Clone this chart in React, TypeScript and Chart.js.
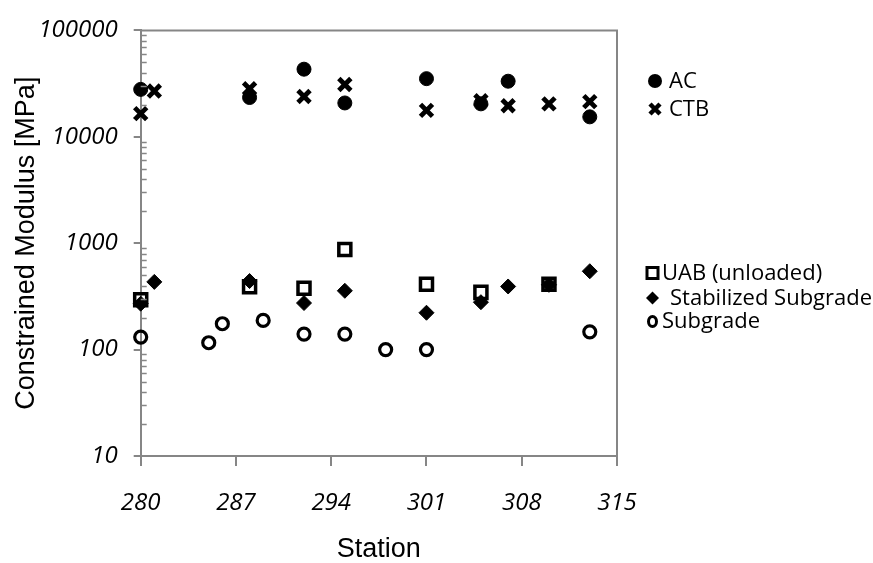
import React, { useEffect, useRef } from 'react';
import { Chart, registerables } from 'chart.js';

Chart.register(...registerables);

// ---- data ----
const acStations = [280, 288, 292, 295, 301, 305, 307, 313];
const acValues = [27900, 23400, 43200, 20800, 35200, 20400, 33300, 15400];

const ctbStations = [280, 281, 288, 292, 295, 301, 305, 307, 310, 313];
const ctbValues = [16500, 26900, 28300, 23900, 31000, 17700, 21800, 19600, 20400, 21400];

const uabStations = [280, 288, 292, 295, 301, 305, 310];
const uabValues = [294, 389, 378, 874, 411, 345, 411];

const stabStations = [280, 281, 288, 292, 295, 301, 305, 307, 310, 313];
const stabValues = [270, 433, 441, 274, 357, 222, 279, 392, 406, 545];

const subStations = [280, 285, 286, 289, 292, 295, 298, 301, 313];
const subValues = [131, 116, 175, 188, 140, 140, 100, 100, 147];

const yTickValues = [10, 100, 1000, 10000, 100000];
const xTickStep = 7;
const xMin = 280;
const xMax = 315;

const seriesNames = ['AC', 'CTB', 'UAB (unloaded)', 'Stabilized Subgrade', 'Subgrade'];
const xTitle = 'Station';
const yTitle = 'Constrained Modulus [MPa]';

const AXIS = '#868686';
const TICK_FONT = "'Open Sans', 'Noto Sans', sans-serif";
const TITLE_FONT = "'Liberation Sans', Arial, sans-serif";

const pts = (xs: number[], ys: number[]) => xs.map((x, i) => ({ x, y: ys[i] }));

export default function App() {
  const ref = useRef<HTMLCanvasElement | null>(null);

  useEffect(() => {
    const canvas = ref.current;
    if (!canvas) return;

    const framePlugin = {
      id: 'frameAndLegend',
      afterDraw(chart: any) {
        const { ctx, chartArea } = chart;
        const y = chart.scales.y;
        ctx.save();
        // top and right border
        ctx.strokeStyle = AXIS;
        ctx.lineWidth = 2;
        ctx.beginPath();
        ctx.moveTo(chartArea.left, chartArea.top);
        ctx.lineTo(chartArea.right, chartArea.top);
        ctx.lineTo(chartArea.right, chartArea.bottom);
        ctx.stroke();
        // minor ticks inside on log axis
        ctx.lineWidth = 1.5;
        for (let k = 10; k < 100000; k *= 10) {
          for (let m = 2; m <= 9; m++) {
            const py = Math.round(y.getPixelForValue(m * k)) + 0.5;
            ctx.beginPath();
            ctx.moveTo(chartArea.left, py);
            ctx.lineTo(chartArea.left + 6, py);
            ctx.stroke();
          }
        }
        // legends
        ctx.fillStyle = '#000';
        ctx.strokeStyle = '#000';
        ctx.font = `22px ${TICK_FONT}`;
        ctx.textBaseline = 'middle';
        ctx.textAlign = 'left';
        // AC
        ctx.beginPath();
        ctx.arc(655, 81, 7, 0, Math.PI * 2);
        ctx.fill();
        ctx.fillText(seriesNames[0], 669, 82);
        // CTB
        ctx.lineWidth = 4.5;
        ctx.lineCap = 'butt';
        ctx.beginPath();
        ctx.moveTo(650, 104);
        ctx.lineTo(660, 114);
        ctx.moveTo(660, 104);
        ctx.lineTo(650, 114);
        ctx.stroke();
        ctx.fillText(seriesNames[1], 669, 110);
        // UAB
        ctx.lineWidth = 3;
        ctx.strokeRect(647, 267.5, 11, 11);
        ctx.fillText(seriesNames[2], 662, 274);
        // Stabilized
        ctx.beginPath();
        ctx.moveTo(652.5, 291.5);
        ctx.lineTo(659, 298);
        ctx.lineTo(652.5, 304.5);
        ctx.lineTo(646, 298);
        ctx.closePath();
        ctx.fill();
        ctx.fillText(seriesNames[3], 670, 299);
        // Subgrade
        ctx.lineWidth = 3;
        ctx.beginPath();
        ctx.ellipse(652.5, 321.5, 4, 5, 0, 0, Math.PI * 2);
        ctx.stroke();
        ctx.fillText(seriesNames[4], 662, 322);
        ctx.restore();
      },
    };

    const chart = new Chart(canvas, {
      type: 'scatter',
      data: {
        datasets: [
          {
            label: seriesNames[0],
            data: pts(acStations, acValues),
            pointStyle: 'circle',
            pointRadius: 7,
            borderWidth: 1,
            borderColor: '#000',
            backgroundColor: '#000',
            clip: false,
          },
          {
            label: seriesNames[1],
            data: pts(ctbStations, ctbValues),
            pointStyle: 'crossRot',
            pointRadius: 8.5,
            borderWidth: 4.8,
            borderColor: '#000',
            backgroundColor: '#000',
            clip: false,
          },
          {
            label: seriesNames[2],
            data: pts(uabStations, uabValues),
            pointStyle: 'rect',
            pointRadius: 8.5,
            borderWidth: 3.5,
            borderColor: '#000',
            backgroundColor: 'rgba(0,0,0,0)',
            clip: false,
          },
          {
            label: seriesNames[3],
            data: pts(stabStations, stabValues),
            pointStyle: 'rectRot',
            pointRadius: 7.5,
            borderWidth: 1,
            borderColor: '#000',
            backgroundColor: '#000',
            clip: false,
          },
          {
            label: seriesNames[4],
            data: pts(subStations, subValues),
            pointStyle: 'circle',
            pointRadius: 6,
            borderWidth: 3.2,
            borderColor: '#000',
            backgroundColor: 'rgba(0,0,0,0)',
            clip: false,
          },
        ],
      },
      options: {
        animation: false,
        responsive: true,
        maintainAspectRatio: false,
        events: [],
        layout: { padding: { left: 0, top: 19.5, right: 256, bottom: 0 } },
        plugins: {
          legend: { display: false },
          tooltip: { enabled: false },
        },
        scales: {
          x: {
            type: 'linear',
            min: xMin,
            max: xMax,
            afterFit: (s: any) => {
              s.height = 107;
            },
            ticks: {
              stepSize: xTickStep,
              color: '#000',
              padding: 23,
              font: { family: TICK_FONT, size: 24, style: 'italic' },
            },
            grid: {
              display: true,
              drawOnChartArea: false,
              drawTicks: true,
              tickLength: 10,
              color: AXIS,
              lineWidth: 2,
            },
            border: { display: true, color: AXIS, width: 2 },
            title: {
              display: true,
              text: xTitle,
              color: '#000',
              font: { family: TITLE_FONT, size: 27 },
              padding: { top: 0, bottom: -3 },
            },
          },
          y: {
            type: 'logarithmic',
            min: 10,
            max: 100000,
            afterFit: (s: any) => {
              s.width = 140.7;
            },
            afterBuildTicks: (s: any) => {
              s.ticks = yTickValues.map((v) => ({ value: v }));
            },
            ticks: {
              color: '#000',
              padding: 16,
              font: { family: TICK_FONT, size: 24, style: 'italic' },
              callback: (v: any) => String(v),
            },
            grid: {
              display: true,
              drawOnChartArea: false,
              drawTicks: true,
              tickLength: 7,
              color: AXIS,
              lineWidth: 2,
            },
            border: { display: true, color: AXIS, width: 2 },
            title: {
              display: true,
              text: yTitle,
              color: '#000',
              font: { family: TITLE_FONT, size: 27 },
              padding: { top: 10, bottom: 0 },
            },
          },
        },
      },
      plugins: [framePlugin],
    });

    return () => chart.destroy();
  }, []);

  return (
    <div style={{ position: 'fixed', left: 0, top: 0, width: 873, height: 563, background: '#fff' }}>
      <canvas ref={ref} />
    </div>
  );
}
